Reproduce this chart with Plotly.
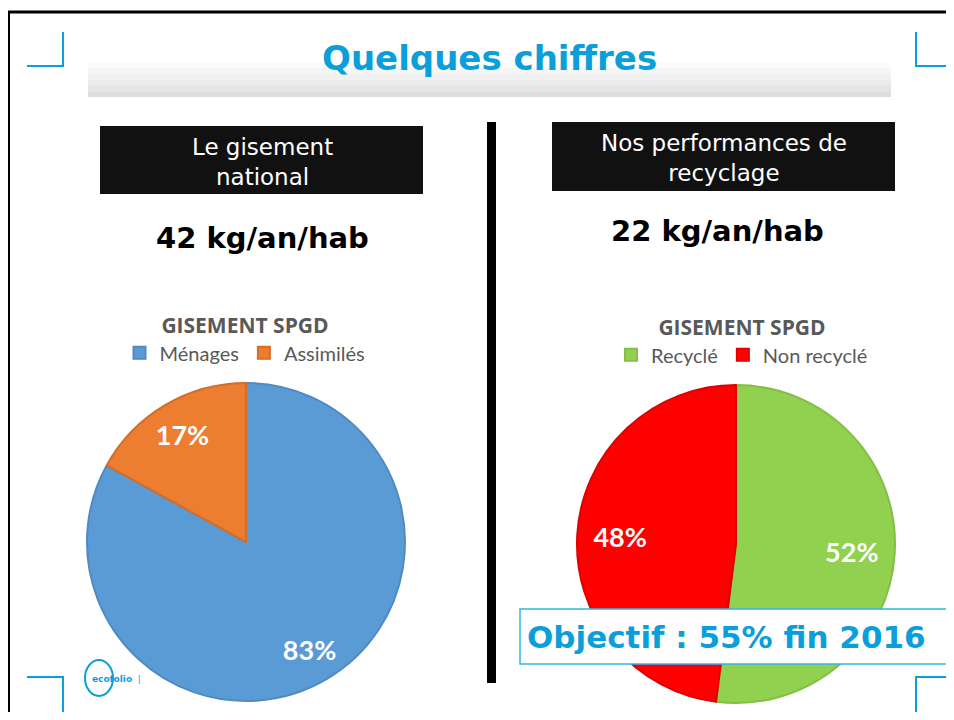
import plotly.graph_objects as go

# la page HTML ajoute une marge de 8 px : la figure couvre l'écran de 8 à 946 / 712
OFF = 8
W, H = 954 - 2 * OFF, 720 - 2 * OFF

# données
titre = "Quelques chiffres"
gisement_labels = ["Ménages", "Assimilés"]
gisement_values = [83, 17]
recyclage_labels = ["Recyclé", "Non recyclé"]
recyclage_values = [52, 48]
legende_titre = "GISEMENT SPGD"
kg_national = "42 kg/an/hab"
kg_recycle = "22 kg/an/hab"
objectif = "Objectif : 55% fin 2016"

BLUE = "#0a9fda"


def px(x):
    return (x - OFF) / W


def py(y):
    return 1 - (y - OFF) / H


fig = go.Figure()

dom_left = dict(x=[px(87), px(405)], y=[py(702), py(382)])
dom_right = dict(x=[px(577), px(895)], y=[py(703), py(385)])
label_font = dict(family="Lato", size=27, color="white", weight="bold")

# camembert gauche : gisement
fig.add_trace(go.Pie(
    labels=gisement_labels, values=gisement_values,
    sort=False, direction="clockwise", rotation=0,
    marker=dict(colors=["#5b9bd5", "#ed7d31"],
                line=dict(color=["#4f8ac2", "#d46d27"], width=2)),
    textinfo="none", domain=dom_left,
    legend="legend", hoverinfo="label+percent",
))
# étiquettes placées vers l'extérieur (anneau transparent)
fig.add_trace(go.Pie(
    labels=gisement_labels, values=gisement_values, hole=0.57,
    sort=False, direction="clockwise", rotation=0,
    marker=dict(colors=["rgba(0,0,0,0)"] * 2, line=dict(width=0)),
    texttemplate="%{value}%", textposition="inside",
    insidetextorientation="horizontal", textfont=label_font,
    domain=dom_left, showlegend=False, hoverinfo="skip",
))

# camembert droit : recyclage
fig.add_trace(go.Pie(
    labels=recyclage_labels, values=recyclage_values,
    sort=False, direction="clockwise", rotation=0,
    marker=dict(colors=["#92d050", "#ff0000"],
                line=dict(color=["#84bf45", "#e00000"], width=2)),
    textinfo="none", domain=dom_right,
    legend="legend2", hoverinfo="label+percent",
))
fig.add_trace(go.Pie(
    labels=recyclage_labels, values=recyclage_values, hole=0.46,
    sort=False, direction="clockwise", rotation=0,
    marker=dict(colors=["rgba(0,0,0,0)"] * 2, line=dict(width=0)),
    texttemplate="%{value}%", textposition="inside",
    insidetextorientation="horizontal", textfont=label_font,
    domain=dom_right, showlegend=False, hoverinfo="skip",
))

legend_common = dict(
    orientation="h", xanchor="center", yanchor="top",
    font=dict(family="Lato", size=20, color="#595959"),
    bgcolor="rgba(0,0,0,0)", itemclick=False, itemwidth=30,
)
legend_title_font = dict(family="Open Sans", size=21, color="#595959")
fig.update_layout(
    legend=dict(x=px(245), y=py(306),
                title=dict(text="<b>" + legende_titre + "</b>", side="top center",
                           font=legend_title_font),
                **legend_common),
    legend2=dict(x=px(742), y=py(308),
                 title=dict(text="<b>" + legende_titre + "</b>", side="top center",
                            font=legend_title_font),
                 **legend_common),
)

shapes = []
# cadre de la diapositive (haut et gauche)
shapes.append(dict(type="line", xref="paper", yref="paper",
                   x0=0, x1=1, y0=py(12), y1=py(12),
                   line=dict(color="black", width=3)))
shapes.append(dict(type="line", xref="paper", yref="paper",
                   x0=px(9), x1=px(9), y0=0, y1=py(12),
                   line=dict(color="black", width=2)))
# bandeau gris sous le titre
greys = ["#fbfbfb", "#f6f6f6", "#f1f1f1", "#ececec", "#e6e6e6", "#dedede"]
band_top, band_bot = 62, 97
step = (band_bot - band_top) / len(greys)
for i, g in enumerate(greys):
    shapes.append(dict(type="rect", xref="paper", yref="paper", layer="below",
                       x0=px(88), x1=px(891),
                       y0=py(band_top + (i + 1) * step), y1=py(band_top + i * step),
                       line=dict(width=0), fillcolor=g))
# coins bleus
corners = [
    [(27, 66), (63, 66), (63, 32)],
    [(916, 32), (916, 66), (952, 66)],
    [(27, 677), (63, 677), (63, 712)],
    [(952, 677), (916, 677), (916, 712)],
]
for pts in corners:
    path = "M " + " L ".join(f"{px(x)},{py(y)}" for x, y in pts)
    shapes.append(dict(type="path", xref="paper", yref="paper", path=path,
                       line=dict(color=BLUE, width=2)))
# barre verticale noire
shapes.append(dict(type="rect", xref="paper", yref="paper",
                   x0=px(487), x1=px(496), y0=py(683), y1=py(122),
                   line=dict(width=0), fillcolor="black"))
# cartouches noirs
shapes.append(dict(type="rect", xref="paper", yref="paper", layer="below",
                   x0=px(100), x1=px(423), y0=py(194), y1=py(126),
                   line=dict(width=0), fillcolor="#111111"))
shapes.append(dict(type="rect", xref="paper", yref="paper", layer="below",
                   x0=px(552), x1=px(895), y0=py(191), y1=py(122),
                   line=dict(width=0), fillcolor="#111111"))
# logo ecofolio
shapes.append(dict(type="circle", xref="paper", yref="paper", layer="below",
                   x0=px(85), x1=px(113), y0=py(696), y1=py(660),
                   line=dict(color=BLUE, width=2)))
# encadré objectif
shapes.append(dict(type="rect", xref="paper", yref="paper",
                   x0=px(520), x1=px(952), y0=py(664), y1=py(609),
                   line=dict(color="#33b4e6", width=1.5), fillcolor="white"))
fig.update_layout(shapes=shapes)

annotations = [
    dict(x=px(489), y=py(58), text="<b>" + titre + "</b>",
         font=dict(family="DejaVu Sans", size=34, color=BLUE)),
    dict(x=px(262), y=py(162), text="Le gisement<br>national",
         font=dict(family="DejaVu Sans", size=23, color="white")),
    dict(x=px(724), y=py(158), text="Nos performances de<br>recyclage",
         font=dict(family="DejaVu Sans", size=23, color="white")),
    dict(x=px(262), y=py(238), text="<b>" + kg_national + "</b>",
         font=dict(family="DejaVu Sans", size=29, color="black")),
    dict(x=px(717), y=py(231), text="<b>" + kg_recycle + "</b>",
         font=dict(family="DejaVu Sans", size=29, color="black")),
    dict(x=px(726), y=py(637), text="<b>" + objectif + "</b>",
         font=dict(family="DejaVu Sans", size=31, color=BLUE)),
    dict(x=px(90), y=py(679), text="<b>ecofolio</b>  |",
         font=dict(family="DejaVu Sans", size=9, color=BLUE), xanchor="left"),
]
for a in annotations:
    a.setdefault("xref", "paper")
    a.setdefault("yref", "paper")
    a.setdefault("showarrow", False)
    a.setdefault("xanchor", "center")
    a.setdefault("yanchor", "middle")
fig.update_layout(annotations=annotations)

fig.update_layout(
    width=W, height=H,
    margin=dict(l=0, r=0, t=0, b=0),
    paper_bgcolor="white", plot_bgcolor="white",
)

fig.write_html("out.html")
